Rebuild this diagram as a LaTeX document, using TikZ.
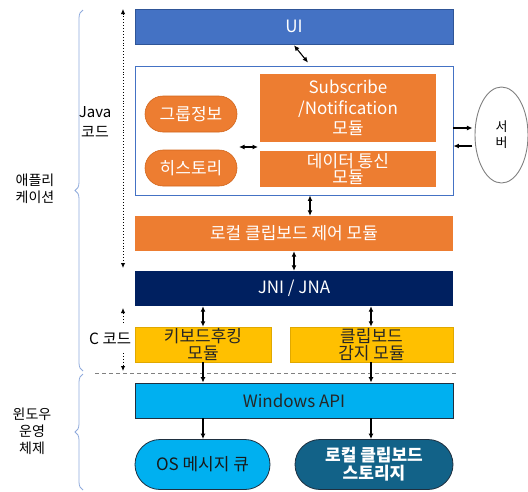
\documentclass[tikz,border=0pt]{standalone}
\usepackage{fontspec}
\setmainfont{Noto Sans CJK KR}
\usetikzlibrary{arrows.meta,shapes.misc,shapes.geometric,decorations.pathreplacing,calc}
\definecolor{uiblue}{HTML}{4472C4}
\definecolor{uiborder}{HTML}{2F5597}
\definecolor{orng}{HTML}{ED7D31}
\definecolor{orngb}{HTML}{D2661C}
\definecolor{navy}{HTML}{002060}
\definecolor{yel}{HTML}{FFC000}
\definecolor{yelb}{HTML}{E0A800}
\definecolor{sky}{HTML}{00B0F0}
\definecolor{darkb}{HTML}{1F3040}
\definecolor{teal}{RGB}{18,98,136}
\definecolor{brc}{HTML}{8FAADC}
\begin{document}
\begin{tikzpicture}[x=1pt,y=-1pt,
  txt/.style={font=\fontsize{17}{18}\selectfont, align=center},
  blk/.style={txt, rectangle, minimum width=#1, minimum height=35pt, inner sep=0pt},
  arr/.style={line width=1.1pt, {Latex[length=5.5pt,width=5pt]}-{Latex[length=5.5pt,width=5pt]}},
  sarr/.style={line width=1.1pt, -{Latex[length=5.5pt,width=5pt]}},
  dotarr/.style={line width=0.9pt, dotted, -{Latex[length=5pt,width=4.5pt]}},
  pill/.style={txt, rounded rectangle, inner sep=0pt}
]
\useasboundingbox (0,0) rectangle (528,491);

% left labels and braces
\node[font=\fontsize{14}{17}\selectfont, align=center] (app) at (35,189) {애플리\\케이션};
\node[font=\fontsize{14}{17}\selectfont, align=center] (winos) at (32,431) {윈도우\\운영\\체제};
\draw[brc, line width=0.8pt, decorate, decoration={brace, amplitude=8pt, aspect=0.5}]
  (83,371) -- (83,10);
\draw[brc, line width=0.8pt, decorate, decoration={brace, amplitude=8pt, aspect=0.5}]
  (83,490) -- (83,374);
\node[font=\fontsize{15}{19.5}\selectfont, align=center] (java) at (95,122) {Java\\코드};
\node[font=\fontsize{15.5}{19}\selectfont, anchor=west, inner sep=0pt] (ccode) at (89,339) {C 코드};

% dotted arrows
\coordinate (j1) at (123,9);
\coordinate (j2) at (123,268);
\draw[line width=0.9pt, dotted, {Latex[length=5pt,width=4.5pt]}-{Latex[length=5pt,width=4.5pt]}] (j1) -- (j2);
\coordinate (c1) at (123,323);
\coordinate (c2) at (123,308);
\coordinate (c3) at (123,353);
\coordinate (c4) at (123,371);
\draw[dotarr] (c1) -- (c2);
\draw[dotarr] (c3) -- (c4);

% dashed separator
\coordinate (d1) at (95,373);
\coordinate (d2) at (457,373);
\draw[gray, line width=0.8pt, dash pattern=on 4pt off 3pt] (d1) -- (d2);

% UI
\node[blk=318pt, fill=uiblue, draw=uiborder, line width=0.6pt, text=white] (ui) at (294,26.5) {UI};
% outer box
\node[draw=uiblue, line width=0.9pt, fill=white, minimum width=318pt, minimum height=129pt, inner sep=0pt] (outer) at (294,130.5) {};
\node[blk=176pt, minimum height=68pt, fill=orng, text=white, font=\fontsize{17}{20.5}\selectfont] (sub) at (348,108) {Subscribe\\/Notification\\모듈};
\node[blk=176pt, minimum height=36pt, fill=orng, text=white, font=\fontsize{17}{15.5}\selectfont] (data) at (348,169) {데이터 통신\\모듈};
\node[pill, minimum width=92pt, minimum height=36pt, fill=orng, draw=orngb, line width=0.6pt, text=white] (grp) at (191,114) {그룹정보};
\node[pill, minimum width=92pt, minimum height=36pt, fill=orng, draw=orngb, line width=0.6pt, text=white] (hist) at (191,168) {히스토리};
\coordinate (m1) at (239,147);
\coordinate (m2) at (258,147);
\draw[arr] (m1) -- (m2);

% server
\node[ellipse, draw=gray, line width=0.9pt, minimum width=53pt, minimum height=96pt, inner sep=0pt, font=\fontsize{13}{16}\selectfont, align=center] (server) at (501.5,135) {서\\버};
\draw[sarr] ([yshift=2.5pt]outer.east) -- ++(19,0);
\draw[sarr] ([yshift=-15.5pt]outer.east) ++(19,0) -- ([yshift=-15.5pt]outer.east);

% lower blocks
\node[blk=318pt, fill=orng, text=white] (local) at (294,233.5) {로컬 클립보드 제어 모듈};
\node[blk=318pt, fill=navy, text=white] (jni) at (294,288.5) {JNI / JNA};
\node[blk=136pt, fill=yel, draw=yelb, line width=0.5pt, text=black!85, font=\fontsize{17}{16.5}\selectfont] (kbd) at (203,344.5) {키보드후킹\\모듈};
\node[blk=163pt, fill=yel, draw=yelb, line width=0.5pt, text=black!85, font=\fontsize{17}{16.5}\selectfont] (clip) at (371.5,344.5) {클립보드\\감지 모듈};
\node[blk=318pt, fill=sky, draw=darkb, line width=0.8pt, text=black!85] (win) at (294,400.5) {Windows API};
\node[pill, minimum width=135pt, minimum height=50pt, fill=sky, draw=darkb, line width=0.8pt, text=black!90] (osq) at (202.5,464.5) {OS 메시지 큐};
\node[pill, minimum width=158pt, minimum height=50pt, fill=teal, draw=darkb, line width=0.8pt, text=white, font=\fontsize{17}{18}\selectfont\bfseries] (store) at (374,464.5) {로컬 클립보드\\스토리지};

% connectors
\coordinate (xr) at (371,0);
\draw[arr] ([yshift=-1pt]ui.south) -- ([xshift=14pt,yshift=3pt]outer.north);
\draw[arr] ([xshift=16pt]outer.south) -- ([xshift=16pt]local.north);
\draw[arr] (local.south) -- (jni.north);
\draw[arr] (kbd.north |- jni.south) -- (kbd.north);
\draw[arr] (xr |- jni.south) -- (xr |- clip.north);
\draw[sarr] (kbd.south) -- (kbd.south |- win.north);
\draw[sarr] (xr |- clip.south) -- (xr |- win.north);
\draw[sarr] (kbd.south |- win.south) -- (kbd.south |- osq.north);
\draw[sarr] (xr |- win.south) -- (xr |- store.north);
\end{tikzpicture}
\end{document}
